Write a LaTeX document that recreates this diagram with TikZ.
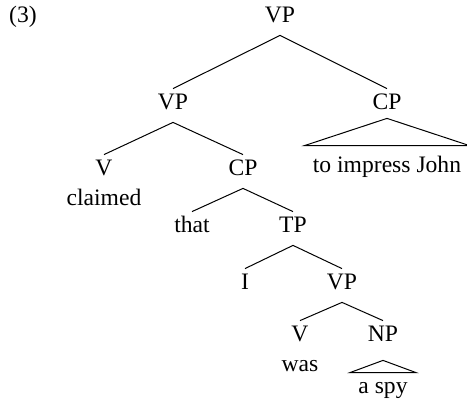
\documentclass[tikz,border=0pt]{standalone}
\usepackage{fontspec}
\setmainfont{Liberation Serif}

\begin{document}
\begin{tikzpicture}[
    x=0.5pt, y=-0.5pt,
    catnode/.style={anchor=base, font=\fontsize{11.8}{14}\selectfont, inner xsep=2.5pt, inner ysep=2.5pt, text height=8pt, text depth=3.5pt},
    wordnode/.style={catnode, inner xsep=4pt},
    branch/.style={draw=black, line width=0.5pt},
    roof/.style={draw=black, line width=0.5pt, line join=miter}
]
    \useasboundingbox (0,0) rectangle (467,400);

    % Example number
    \node[catnode] (exnum) at (23,23) {(3)};

    % Level 0
    \node[catnode] (vp0) at (280,23) {VP};

    % Level 1
    \node[catnode] (vp1) at (173,110) {VP};
    \node[catnode] (cp1) at (387,110) {CP};

    \draw[branch] (vp0.south) -- (vp1.north);
    \draw[branch] (vp0.south) -- (cp1.north);

    % Roof over the adjunct clause
    \node[wordnode] (impress) at (387,173) {to impress John};
    \draw[roof] ([yshift=2pt]cp1.south) -- ([yshift=3pt]impress.north west) -- ([yshift=3pt]impress.north east) -- cycle;

    % Level 2
    \node[catnode] (v1) at (104,176) {V};
    \node[catnode] (cp2) at (243,176) {CP};
    \node[catnode] (claimed) at (104,206) {claimed};

    \draw[branch] (vp1.south) -- (v1.north);
    \draw[branch] (vp1.south) -- (cp2.north);

    % Level 3
    \node[catnode] (that) at (192,233) {that};
    \node[catnode] (tp) at (293,233) {TP};

    \draw[branch] (cp2.south) -- (that.north);
    \draw[branch] (cp2.south) -- (tp.north);

    % Level 4
    \node[catnode] (i) at (245,290) {I};
    \node[catnode] (vp2) at (342,290) {VP};

    \draw[branch] (tp.south) -- (i.north);
    \draw[branch] (tp.south) -- (vp2.north);

    % Level 5
    \node[catnode] (v2) at (300,342) {V};
    \node[catnode] (np) at (383,342) {NP};
    \node[catnode] (was) at (300,372) {was};

    \draw[branch] (vp2.south) -- (v2.north);
    \draw[branch] (vp2.south) -- (np.north);

    % Roof over the object
    \node[wordnode] (spy) at (383,394) {a spy};
    \draw[roof] ([yshift=-3pt]np.south) -- (spy.north west) -- (spy.north east) -- cycle;
\end{tikzpicture}
\end{document}
